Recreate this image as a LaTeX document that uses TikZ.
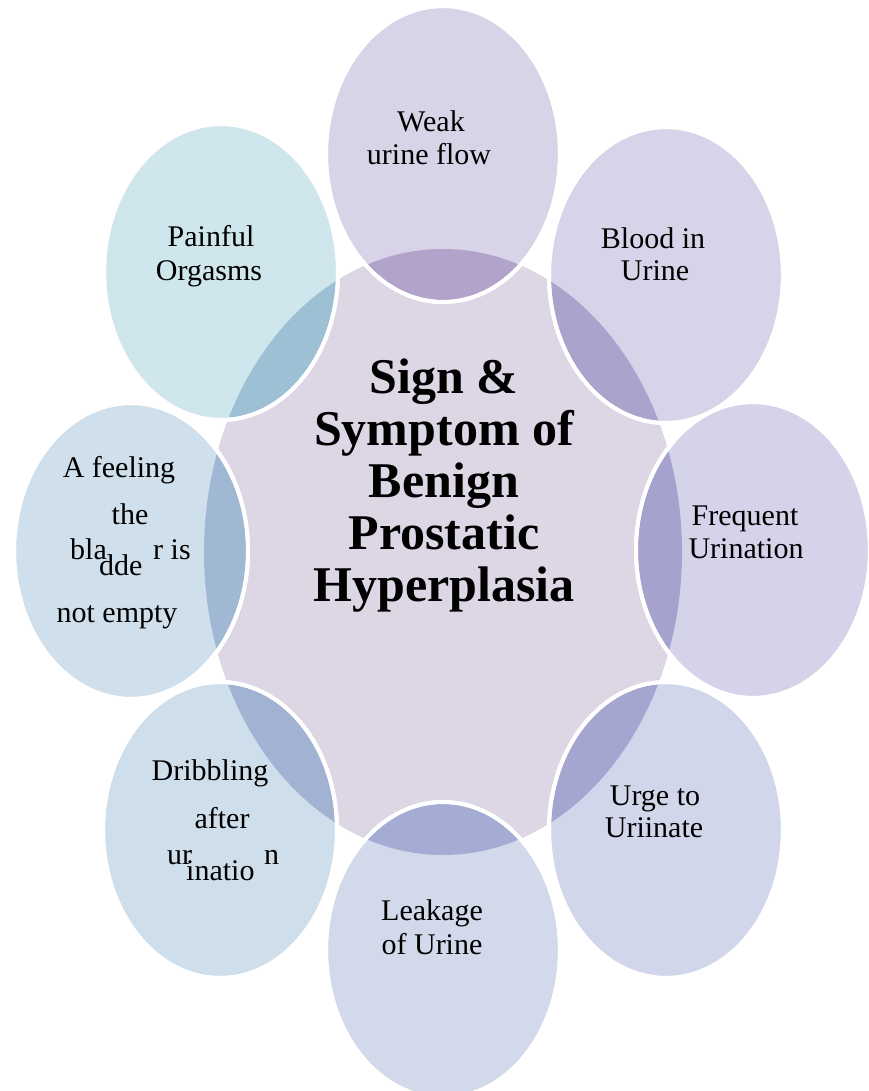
\documentclass[tikz,border=0pt]{standalone}
\usepackage{fontspec}
\setmainfont{Liberation Serif}
\usetikzlibrary{shapes.geometric}
\definecolor{cen}{HTML}{DCD6E5}
\definecolor{l1}{HTML}{D9D3E8}\definecolor{d1}{HTML}{B2A3CB}
\definecolor{l2}{HTML}{D8D3E8}\definecolor{d2}{HTML}{AAA3CB}
\definecolor{l3}{HTML}{D4D3E9}\definecolor{d3}{HTML}{A6A2CE}
\definecolor{l4}{HTML}{D2D6EA}\definecolor{d4}{HTML}{A4A6D0}
\definecolor{l5}{HTML}{D2D9EB}\definecolor{d5}{HTML}{A4ACD3}
\definecolor{l6}{HTML}{CFDEEB}\definecolor{d6}{HTML}{A2B2D3}
\definecolor{l7}{HTML}{CFE0EC}\definecolor{d7}{HTML}{A1B8D4}
\definecolor{l8}{HTML}{CEE6EC}\definecolor{d8}{HTML}{9EC0D4}
\begin{document}
\begin{tikzpicture}[x=1pt,y=-1pt,
  lbl/.style={inner sep=0pt,anchor=base,font=\fontsize{30}{33}\selectfont},
  lblw/.style={inner sep=0pt,anchor=base west,font=\fontsize{30}{33}\selectfont},
  ttl/.style={inner sep=0pt,anchor=base,font=\fontsize{50}{52}\selectfont\bfseries},
  petal/.style={ellipse,minimum width=234pt,minimum height=296pt,inner sep=0pt,draw=white,line width=4pt}]
\useasboundingbox[fill=white] (0,0) rectangle (869,1091);
\coordinate (c) at (443,552);
\fill[cen] (c) ellipse [x radius=239pt,y radius=303pt];
\foreach \n/\px/\py in {1/443/154, 2/666/275, 3/753/550, 4/666/830, 5/443/950, 6/220/830, 7/131/551, 8/221/272}{
  \node[petal,fill=l\n] (e\n) at (\px,\py) {};
  \begin{scope}
    \clip (c) ellipse [x radius=239pt,y radius=303pt];
    \fill[d\n] (e\n.center) ellipse [x radius=115pt,y radius=146pt];
  \end{scope}
  \draw[white,line width=4pt] (e\n.center) ellipse [x radius=117pt,y radius=148pt];
}
% titles
\node[ttl] (t1) at (444,393) {Sign \&};
\node[ttl] (t2) at (444,445) {Symptom of};
\node[ttl] (t3) at (444,497) {Benign};
\node[ttl] (t4) at (444,549) {Prostatic};
\node[ttl] (t5) at (444,601) {Hyperplasia};
% labels
\node[lbl] (a1) at (431,132) {Weak};
\node[lbl] (a2) at (429,165) {urine flow};
\node[lbl] (b1) at (653,248) {Blood in};
\node[lbl] (b2) at (655,280) {Urine};
\node[lbl] (f1) at (745,525) {Frequent};
\node[lbl] (f2) at (746,558) {Urination};
\node[lbl] (u1) at (655,805) {Urge to};
\node[lbl] (u2) at (654,837) {Uriinate};
\node[lbl] (k1) at (432,920) {Leakage};
\node[lbl] (k2) at (432,954) {of Urine};
\node[lbl] (p1) at (211,247) {Painful};
\node[lbl] (p2) at (209,280) {Orgasms};
\node[lbl] (g1) at (119,477) {A feeling};
\node[lbl] (g2) at (130,524) {the};
\node[lblw] (g3) at (70,559) {bla};
\node[lblw] (g4) at (99,575) {dde};
\node[lblw] (g5) at (153,559) {r is};
\node[lbl] (g6) at (117,622) {not empty};
\node[lbl] (r1) at (210,780) {Dribbling};
\node[lbl] (r2) at (222,828) {after};
\node[lblw] (r3) at (167,864) {ur};
\node[lblw] (r4) at (186,880) {inatio};
\node[lblw] (r5) at (264,864) {n};
\end{tikzpicture}
\end{document}
